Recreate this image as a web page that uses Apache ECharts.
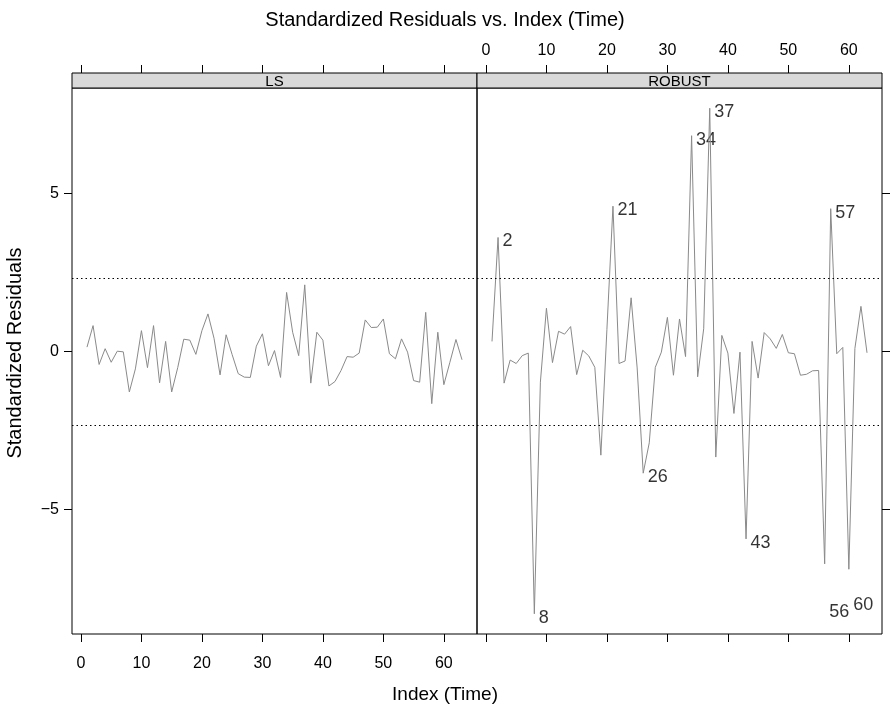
<!DOCTYPE html>
<html><head><meta charset="utf-8">
<script src="https://cdn.jsdelivr.net/npm/echarts@6/dist/echarts.min.js"></script>
<style>html,body{margin:0;padding:0;background:#fff}#c{width:890px;height:715px}</style>
</head><body><div id="c"></div>
<script>
const panels = ['LS', 'ROBUST'];
const lsResid = [0.14,0.82,-0.41,0.09,-0.34,0.01,-0.01,-1.28,-0.55,0.66,-0.51,0.82,-0.99,0.32,-1.28,-0.51,0.39,0.36,-0.09,0.66,1.19,0.42,-0.74,0.53,-0.10,-0.70,-0.81,-0.82,0.17,0.56,-0.45,0.03,-0.82,1.87,0.61,-0.13,2.11,-1.00,0.61,0.36,-1.09,-0.95,-0.60,-0.16,-0.18,-0.05,1.00,0.76,0.77,1.03,-0.07,-0.23,0.40,-0.02,-0.92,-0.97,1.24,-1.65,0.61,-1.05,-0.34,0.38,-0.26];
const robustResid = [0.32,3.61,-1.00,-0.27,-0.38,-0.13,-0.05,-8.30,-0.97,1.37,-0.35,0.64,0.55,0.79,-0.73,0.04,-0.14,-0.50,-3.28,0.70,4.60,-0.38,-0.30,1.70,-0.52,-3.85,-2.89,-0.50,-0.02,1.08,-0.75,1.03,-0.16,6.83,-0.80,0.72,7.70,-3.34,0.51,-0.05,-1.96,-0.02,-5.93,0.32,-0.84,0.60,0.40,0.10,0.54,-0.04,-0.07,-0.75,-0.72,-0.61,-0.60,-6.72,4.52,-0.07,0.13,-6.89,0.10,1.43,-0.04];
const robustLabelIdx = [2, 8, 21, 26, 34, 37, 43, 56, 57, 60];
const refLevels = [2.33, -2.33];
const xTicks = [0, 10, 20, 30, 40, 50, 60];
const yTicks = [-5, 0, 5];
const titleText = 'Standardized Residuals vs. Index (Time)';
const xTitle = 'Index (Time)';
const yTitle = 'Standardized Residuals';

// label placement nudges (pixels), style only
const labelNudge = { 56: [0, 44], 60: [0, 32] };

const n = lsResid.length;
const xMin = 1 - 0.04 * (n - 1), xMax = n + 0.04 * (n - 1);
const all = lsResid.concat(robustResid);
const yLo = Math.min(...all), yHi = Math.max(...all);
const yPad = 0.04 * (yHi - yLo);
const yMin = yLo - yPad, yMax = yHi + yPad;

const font = '"Liberation Sans", Arial, Helvetica, sans-serif';
const P = { top: 88, height: 546, w: 405, left0: 72, stripH: 15 };

function xAx(grid, pos, labels) {
  return {
    type: 'value', gridIndex: grid, position: pos, offset: pos === 'top' ? P.stripH : 0,
    min: xMin, max: xMax,
    axisLine: { show: false, onZero: false }, splitLine: { show: false },
    axisTick: { show: true, inside: false, length: 8, lineStyle: { color: '#000', width: 1 }, customValues: xTicks },
    axisLabel: { show: labels, customValues: xTicks, color: '#000', fontSize: 16, fontFamily: font, margin: pos === 'bottom' ? 22 : 14 }
  };
}
function yAx(grid, pos, labels) {
  return {
    type: 'value', gridIndex: grid, position: pos, min: yMin, max: yMax,
    axisLine: { show: false, onZero: false }, splitLine: { show: false },
    axisTick: { show: true, inside: false, length: 8, lineStyle: { color: '#000', width: 1 }, customValues: yTicks },
    axisLabel: { show: labels, customValues: yTicks, color: '#000', fontSize: 16, fontFamily: font, margin: 13,
      formatter: v => v < 0 ? '\u2212' + Math.abs(v) : String(v) }
  };
}
const refLine = {
  silent: true, symbol: 'none', label: { show: false }, animation: false,
  lineStyle: { type: [1.5, 3], color: '#000', width: 1 },
  data: refLevels.map(v => ({ yAxis: v }))
};
const lineStyle = { color: '#8a8a8a', width: 1 };

const chart = echarts.init(document.getElementById('c'), null, { renderer: 'canvas' });
chart.setOption({
  animation: false,
  backgroundColor: '#fff',
  title: [{ text: titleText, left: 'center', top: 5, textStyle: { fontSize: 20, fontWeight: 'normal', color: '#000', fontFamily: font } }],
  grid: [
    { left: P.left0, top: P.top, width: P.w, height: P.height, show: true, borderColor: '#000', borderWidth: 1, backgroundColor: 'transparent' },
    { left: P.left0 + P.w, top: P.top, width: P.w, height: P.height, show: true, borderColor: '#000', borderWidth: 1, backgroundColor: 'transparent' }
  ],
  xAxis: [xAx(0, 'bottom', true), xAx(0, 'top', false), xAx(1, 'bottom', false), xAx(1, 'top', true)],
  yAxis: [yAx(0, 'left', true), yAx(1, 'right', false)],
  series: [
    { type: 'line', xAxisIndex: 0, yAxisIndex: 0, data: lsResid.map((v, i) => [i + 1, v]), showSymbol: false, lineStyle, markLine: refLine },
    { type: 'line', xAxisIndex: 2, yAxisIndex: 1, data: robustResid.map((v, i) => [i + 1, v]), showSymbol: false, lineStyle, markLine: refLine },
    { type: 'scatter', xAxisIndex: 2, yAxisIndex: 1, symbolSize: 1, itemStyle: { color: 'rgba(0,0,0,0)' },
      data: robustLabelIdx.map(i => {
        const off = labelNudge[i] || [0, 0];
        return { value: [i, robustResid[i - 1]], label: { offset: [off[0], 4 + off[1]] } };
      }),
      label: { show: true, position: 'right', distance: 4, offset: [0, 4], color: '#000', fontSize: 18, fontFamily: font,
        formatter: p => String(p.value[0]) } }
  ],
  graphic: panels.map((name, k) => ({
    type: 'group', children: [
      { type: 'rect', shape: { x: P.left0 + k * P.w, y: P.top - P.stripH, width: P.w, height: P.stripH },
        style: { fill: '#d9d9d9', stroke: '#000', lineWidth: 1 } },
      { type: 'text', x: P.left0 + k * P.w + P.w / 2, y: P.top - P.stripH / 2 + 1,
        style: { text: name, fill: '#000', fontSize: 15, fontFamily: font, textAlign: 'center', textVerticalAlign: 'middle' } }
    ]
  })).concat([
    { type: 'text', x: 445, y: 695, style: { text: xTitle, fill: '#000', fontSize: 19, fontFamily: font, textAlign: 'center', textVerticalAlign: 'middle' } },
    { type: 'text', x: 15, y: 353, rotation: Math.PI / 2, style: { text: yTitle, fill: '#000', fontSize: 20, fontFamily: font, textAlign: 'center', textVerticalAlign: 'middle' } }
  ])
});
</script></body></html>
